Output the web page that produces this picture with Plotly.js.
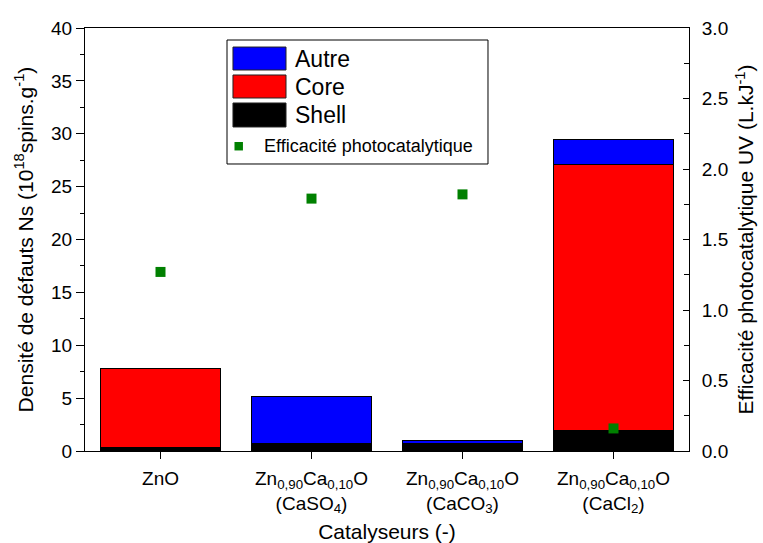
<!DOCTYPE html>
<html>
<head>
<meta charset="utf-8">
<script src="https://cdn.plot.ly/plotly-3.0.1.min.js"></script>
<style>html,body{margin:0;padding:0;background:#fff;}#chart{width:763px;height:543px;}</style>
</head>
<body>
<div id="chart"></div>
<script>
const categories = [
  "ZnO",
  "Zn<sub>0,90</sub>Ca<sub>0,10</sub>O<br>(CaSO<sub>4</sub>)",
  "Zn<sub>0,90</sub>Ca<sub>0,10</sub>O<br>(CaCO<sub>3</sub>)",
  "Zn<sub>0,90</sub>Ca<sub>0,10</sub>O<br>(CaCl<sub>2</sub>)"
];
const shell = [0.3, 0.7, 0.7, 1.9];
const core = [7.5, 0.0, 0.0, 25.15];
const autre = [0.0, 4.5, 0.3, 2.45];
const efficacite = [1.27, 1.79, 1.82, 0.16];

const F = "Liberation Sans, Arial, Helvetica, sans-serif";
const barLine = {color: "#000", width: 1};

const traces = [
  {type: "bar", name: "Shell", x: categories, y: shell, width: 0.8,
   marker: {color: "#000000", line: barLine}, showlegend: false},
  {type: "bar", name: "Core", x: categories, y: core, width: 0.8,
   marker: {color: "#ff0000", line: barLine}, showlegend: false},
  {type: "bar", name: "Autre", x: categories, y: autre, width: 0.8,
   marker: {color: "#0000ff", line: barLine}, showlegend: false},
  {type: "scatter", mode: "markers", name: "Efficacité photocatalytique",
   x: categories, y: efficacite, yaxis: "y2",
   marker: {symbol: "square", color: "#008000", size: 10}, showlegend: false}
];

// custom legend (paper coords)
const lx0 = 0.2351, lx1 = 0.6672, ly0 = 0.6785, ly1 = 0.9716;
const sw0 = 0.245, sw1 = 0.3328;
const items = [
  {label: "Autre", color: "#0000ff", y0: 0.9007, y1: 0.955},
  {label: "Core", color: "#ff0000", y0: 0.8345, y1: 0.8889},
  {label: "Shell", color: "#000000", y0: 0.766, y1: 0.8227}
];
const shapes = [
  {type: "rect", xref: "paper", yref: "paper", x0: lx0, x1: lx1, y0: ly0, y1: ly1,
   fillcolor: "#fff", line: {color: "#000", width: 1}, layer: "above"}
];
const annotations = [];
items.forEach(it => {
  shapes.push({type: "rect", xref: "paper", yref: "paper", x0: sw0, x1: sw1, y0: it.y0, y1: it.y1,
    fillcolor: it.color, line: {color: "#222", width: 1}, layer: "above"});
  annotations.push({xref: "paper", yref: "paper", x: 0.344, y: (it.y0 + it.y1) / 2,
    xanchor: "left", yanchor: "middle", text: it.label, showarrow: false,
    font: {family: F, size: 23, color: "#000"}});
});
shapes.push({type: "rect", xref: "paper", yref: "paper", x0: 0.2475, x1: 0.2615, y0: 0.7105, y1: 0.7305,
  fillcolor: "#008000", line: {width: 0}, layer: "above"});
annotations.push({xref: "paper", yref: "paper", x: 0.2935, y: 0.7205, xanchor: "left", yanchor: "middle",
  text: "Efficacité photocatalytique", showarrow: false, font: {family: F, size: 18, color: "#000"}});

const layout = {
  width: 763, height: 543,
  margin: {l: 85, r: 74, t: 28, b: 92},
  paper_bgcolor: "#fff", plot_bgcolor: "#fff",
  barmode: "stack",
  showlegend: false,
  font: {family: F, size: 19, color: "#000"},
  xaxis: {
    type: "category", range: [-0.5, 3.5],
    showline: true, linecolor: "#000", linewidth: 1, mirror: true,
    ticks: "outside", ticklen: 7, tickcolor: "#000",
    showgrid: false, zeroline: false,
    ticklabelstandoff: 3,
    tickfont: {family: F, size: 19},
    title: {text: "Catalyseurs (-)", font: {family: F, size: 21}, standoff: 8}
  },
  yaxis: {
    range: [0, 40], dtick: 5,
    showline: true, linecolor: "#000", linewidth: 1,
    ticks: "outside", ticklen: 8, tickcolor: "#000",
    minor: {dtick: 2.5, ticks: "outside", ticklen: 4, tickcolor: "#000"},
    showgrid: false, zeroline: false,
    tickfont: {family: F, size: 19},
    title: {text: "Densité de défauts Ns (10<sup>18</sup>spins.g<sup>-1</sup>)", font: {family: F, size: 21}, standoff: 11}
  },
  yaxis2: {
    overlaying: "y", side: "right", range: [0, 3], dtick: 0.5, tickformat: ".1f",
    showline: true, linecolor: "#000", linewidth: 1,
    ticks: "inside", ticklen: 6, tickcolor: "#000",
    minor: {dtick: 0.25, ticks: "inside", ticklen: 5, tickcolor: "#000"},
    showgrid: false, zeroline: false,
    ticklabelstandoff: 8,
    tickfont: {family: F, size: 19},
    title: {text: "Efficacité photocatalytique UV (L.kJ<sup>-1</sup>)", font: {family: F, size: 21}, standoff: 11}
  },
  shapes: shapes,
  annotations: annotations
};

Plotly.newPlot("chart", traces, layout, {displayModeBar: false, staticPlot: true});
</script>
</body>
</html>
